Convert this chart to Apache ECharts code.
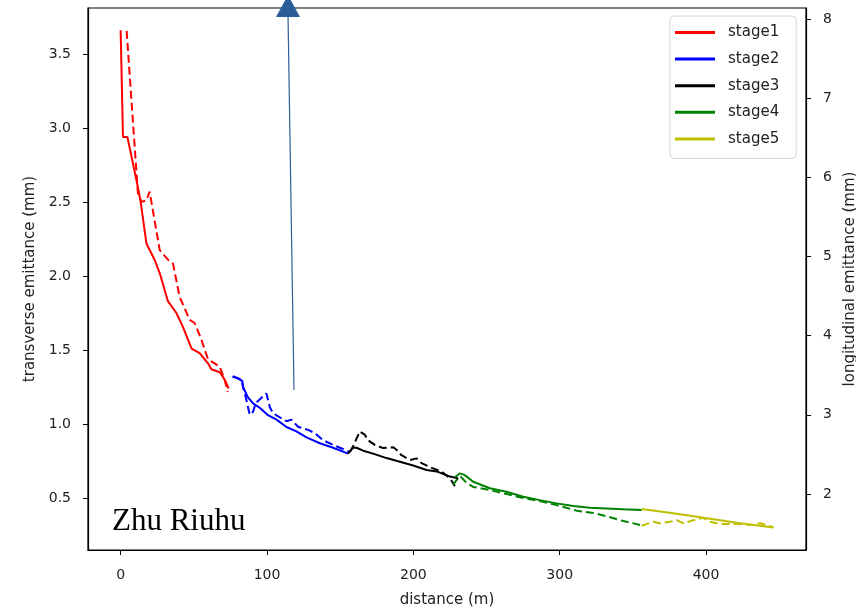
<!DOCTYPE html>
<html>
<head>
<meta charset="utf-8">
<script src="https://cdn.jsdelivr.net/npm/echarts@6/dist/echarts.min.js"></script>
<style>html,body{margin:0;padding:0;background:#fff;}#chart{width:856px;height:608px;}</style>
</head>
<body>
<div id="chart"></div>
<script>
// ---- data (distance in m, emittance in mm) ----
const stageNames = ['stage1', 'stage2', 'stage3', 'stage4', 'stage5'];
const stageColors = ['#ff0000', '#0000ff', '#000000', '#008000', '#bfbf00'];

// transverse emittance (solid, left axis)
const s1tX = [0, 1.6, 4.6, 11.8, 13.7, 17.6, 23.2, 26.7, 32.3, 38.1, 42.4, 48.5, 54, 59.7, 62, 67.7, 71.1, 73.8];
const s1tY = [3.66, 2.94, 2.94, 2.60, 2.50, 2.22, 2.11, 2.02, 1.83, 1.75, 1.66, 1.51, 1.48, 1.41, 1.37, 1.35, 1.30, 1.24];
const s2tX = [76.4, 80.2, 83.2, 83.6, 87.0, 90.5, 95.0, 100.7, 106.5, 113.3, 120.1, 127.0, 136.1, 145.2, 155.4];
const s2tY = [1.32, 1.31, 1.29, 1.25, 1.18, 1.14, 1.11, 1.06, 1.03, 0.98, 0.95, 0.91, 0.87, 0.84, 0.80];
const s3tX = [155.4, 158.8, 161.2, 165.7, 172.5, 181.7, 190.8, 199.9, 209.0, 215.9, 225.0, 230.6];
const s3tY = [0.80, 0.84, 0.84, 0.82, 0.80, 0.77, 0.745, 0.72, 0.69, 0.68, 0.645, 0.633];
const s4tX = [228.4, 231.8, 235.2, 240.9, 252.3, 263.7, 275.1, 286.5, 297.9, 309.3, 320.7, 332.1, 343.5, 356.0];
const s4tY = [0.64, 0.667, 0.655, 0.61, 0.566, 0.543, 0.509, 0.486, 0.464, 0.446, 0.435, 0.43, 0.424, 0.419];
const s5tX = [356.0, 377.6, 400.5, 423.2, 446];
const s5tY = [0.426, 0.397, 0.363, 0.329, 0.301];

// longitudinal emittance (dashed, right axis)
const s1lX = [4.1, 11.8, 14.2, 17.6, 19.8, 26.7, 32.3, 35.8, 40.3, 47.2, 50.6, 55.2, 59.7, 64.2, 67.7, 71.1, 73.2];
const s1lY = [7.85, 5.80, 5.69, 5.71, 5.82, 5.08, 4.96, 4.91, 4.49, 4.20, 4.16, 3.95, 3.70, 3.65, 3.61, 3.44, 3.29];
const s2lX = [76.8, 82.5, 85.9, 88.2, 90.5, 92.3, 99.6, 101.9, 104.1, 113.3, 116.7, 121.2, 128.1, 132.6, 138.3, 145.2, 153.2, 156.6];
const s2lY = [3.49, 3.44, 3.19, 3.00, 3.04, 3.15, 3.27, 3.10, 3.02, 2.92, 2.94, 2.85, 2.81, 2.77, 2.68, 2.62, 2.56, 2.53];
const s3lX = [156.6, 158.8, 163.4, 166.8, 169.0, 173.7, 179.4, 186.3, 188.5, 191.9, 197.6, 202.2, 205.6, 212.6, 219.5, 225.0, 228.4];
const s3lY = [2.53, 2.60, 2.79, 2.75, 2.68, 2.62, 2.58, 2.59, 2.56, 2.49, 2.43, 2.45, 2.39, 2.33, 2.28, 2.20, 2.10];
const s4lX = [227.2, 231.8, 236.4, 240.9, 252.3, 263.7, 275.1, 286.5, 297.9, 311.6, 323.0, 332.1, 341.2, 354.9];
const s4lY = [2.12, 2.23, 2.14, 2.09, 2.05, 2.00, 1.95, 1.91, 1.86, 1.79, 1.76, 1.72, 1.67, 1.61];
const s5lX = [356, 363.9, 368.5, 375.4, 379.9, 384.5, 391.3, 398.2, 402.7, 409.6, 421.0, 432.4, 437.0, 446];
const s5lY = [1.60, 1.65, 1.63, 1.65, 1.67, 1.63, 1.67, 1.70, 1.65, 1.62, 1.62, 1.61, 1.63, 1.58];

const xTicks = [0, 100, 200, 300, 400];
const leftTicks = [0.5, 1.0, 1.5, 2.0, 2.5, 3.0, 3.5];
const rightTicks = [2, 3, 4, 5, 6, 7, 8];

const annotationText = 'Zhu Riuhu';

// ---- build ----
const zip = (xs, ys) => xs.map((x, i) => [x, ys[i]]);
const trans = [zip(s1tX, s1tY), zip(s2tX, s2tY), zip(s3tX, s3tY), zip(s4tX, s4tY), zip(s5tX, s5tY)];
const longi = [zip(s1lX, s1lY), zip(s2lX, s2lY), zip(s3lX, s3lY), zip(s4lX, s4lY), zip(s5lX, s5lY)];

const FONT = 'DejaVu Sans';
const series = [];
stageNames.forEach((n, i) => {
  series.push({
    name: n, type: 'line', data: trans[i], yAxisIndex: 0,
    symbol: 'none', showSymbol: false, animation: false, z: 3,
    lineStyle: { color: stageColors[i], width: 2 },
    itemStyle: { color: stageColors[i] }
  });
});
stageNames.forEach((n, i) => {
  series.push({
    name: n, type: 'line', data: longi[i], yAxisIndex: 1,
    symbol: 'none', showSymbol: false, animation: false, z: 2,
    lineStyle: { color: stageColors[i], width: 2, type: [8, 4] },
    itemStyle: { color: stageColors[i] }
  });
});

const axisCommon = {
  splitLine: { show: false },
  axisLine: { show: true, onZero: false, lineStyle: { color: '#000', width: 1.2 } },
  axisTick: { show: true, inside: false, length: 5, lineStyle: { color: '#000', width: 1 } },
  nameTextStyle: { fontFamily: FONT, fontSize: 15, color: '#222' }
};

const chart = echarts.init(document.getElementById('chart'), null, { renderer: 'canvas' });
chart.setOption({
  backgroundColor: '#fff',
  animation: false,
  grid: { left: 88, right: 50, top: 8, bottom: 58, containLabel: false, outerBoundsMode: 'none',
    show: true, borderColor: '#000', borderWidth: 1.2, backgroundColor: 'transparent' },
  legend: {
    data: stageNames.map((n, i) => ({ name: n, icon: 'rect', itemStyle: { color: stageColors[i] } })),
    orient: 'vertical', left: 670, top: 16,
    itemWidth: 40, itemHeight: 3, itemGap: 11.6,
    padding: [9, 17, 12, 5],
    backgroundColor: '#fff', borderColor: '#d6d6d6', borderWidth: 1, borderRadius: 4,
    textStyle: { fontFamily: FONT, fontSize: 15, color: '#222', padding: [0, 0, 0, 8] }
  },
  xAxis: Object.assign({}, axisCommon, {
    type: 'value', min: -22.3, max: 468.3,
    name: 'distance (m)', nameLocation: 'middle', nameGap: 43,
    axisTick: Object.assign({}, axisCommon.axisTick, { customValues: xTicks }),
    axisLabel: { customValues: xTicks, margin: 18, fontFamily: FONT, fontSize: 14, color: '#222' }
  }),
  yAxis: [
    Object.assign({}, axisCommon, {
      type: 'value', position: 'left', min: 0.149, max: 3.811,
      name: 'transverse emittance (mm)', nameLocation: 'middle', nameGap: 49,
      axisTick: Object.assign({}, axisCommon.axisTick, { customValues: leftTicks }),
      axisLabel: { customValues: leftTicks, margin: 17, fontFamily: FONT, fontSize: 14, color: '#222',
        formatter: v => v.toFixed(1) }
    }),
    Object.assign({}, axisCommon, {
      type: 'value', position: 'right', min: 1.293, max: 8.139,
      name: 'longitudinal emittance (mm)', nameLocation: 'middle', nameGap: 34,
      axisTick: Object.assign({}, axisCommon.axisTick, { customValues: rightTicks }),
      axisLabel: { customValues: rightTicks, margin: 17, fontFamily: FONT, fontSize: 14, color: '#222' }
    })
  ],
  series: series,
  graphic: [
    { type: 'line', z: 100, shape: { x1: 294, y1: 390, x2: 288, y2: 14 }, style: { stroke: '#2f5e98', lineWidth: 1.2 } },
    { type: 'polygon', z: 100, shape: { points: [[276, 17], [300, 17], [288, -5]] }, style: { fill: '#2c5d99' } },
    { type: 'text', z: 100, left: 112, top: 506, style: { text: annotationText, font: '31px "Liberation Serif"', fill: '#000' } }
  ]
});
</script>
</body>
</html>
